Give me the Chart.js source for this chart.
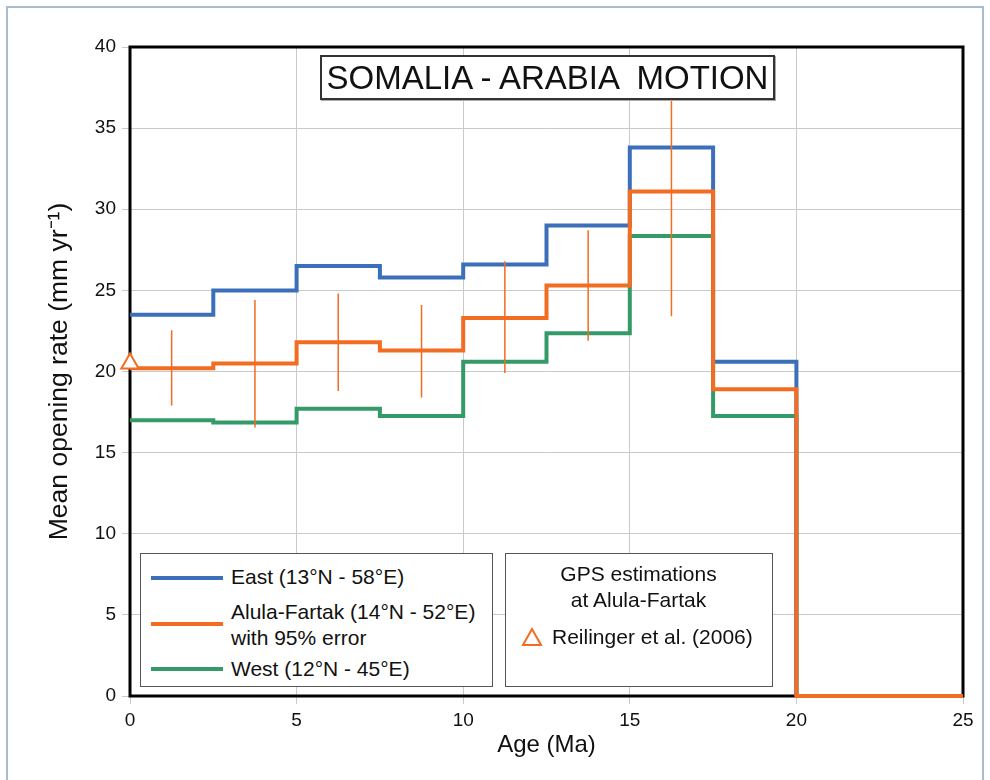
<!DOCTYPE html>
<html lang="en">
<head>
    <meta charset="UTF-8">
    <title>Somalia - Arabia Motion</title>
    <script src="https://cdn.jsdelivr.net/npm/chart.js@4.4.1/dist/chart.umd.min.js"></script>
    <style>
        * {
            margin: 0;
            padding: 0;
            box-sizing: border-box;
        }

        body {
            background-color: #fff;
            font-family: 'Liberation Sans', Arial, sans-serif;
            color: #111;
        }

        .wrap {
            position: relative;
            width: 990px;
            height: 780px;
            overflow: hidden;
        }

        .page-border {
            position: absolute;
            left: 6px;
            top: 6px;
            width: 978px;
            height: 800px;
            border: 2px solid #a9bccb;
        }

        canvas {
            position: absolute;
            left: 0;
            top: 0;
        }

        .title-box {
            position: absolute;
            left: 320px;
            top: 55px;
            width: 455px;
            height: 45px;
            background: #fff;
            border: 2px solid #333;
            box-shadow: 1px 1px 0 #aaa;
            font-size: 33px;
            line-height: 41px;
            text-align: center;
            white-space: pre;
        }

        .legend {
            position: absolute;
            top: 553px;
            height: 134px;
            background: #fff;
            border: 1.5px solid #555;
            font-size: 21px;
        }

        .legend .item {
            position: absolute;
            white-space: nowrap;
            line-height: 24px;
        }

        .legend .swatch {
            position: absolute;
            height: 4px;
            width: 72px;
            left: 10px;
        }
    </style>
</head>
<body>
    <div class="wrap">
        <div class="page-border"></div>
        <canvas id="rateChart" width="990" height="780"></canvas>

        <div class="title-box">SOMALIA - ARABIA  MOTION</div>

        <div class="legend" style="left:140px; width:353px;">
            <div class="swatch" style="top:22px; background:#3b6fba;"></div>
            <div class="item" style="left:90px; top:11px;">East (13°N - 58°E)</div>
            <div class="swatch" style="top:68px; background:#f26d21;"></div>
            <div class="item" style="left:90px; top:46px;">Alula-Fartak (14°N - 52°E)</div>
            <div class="item" style="left:90px; top:72px;">with 95% error</div>
            <div class="swatch" style="top:113px; background:#349a68;"></div>
            <div class="item" style="left:90px; top:103px;">West (12°N - 45°E)</div>
        </div>

        <div class="legend" style="left:505px; width:268px;">
            <div class="item" style="left:0; width:265px; text-align:center; top:8px;">GPS estimations</div>
            <div class="item" style="left:0; width:265px; text-align:center; top:34px;">at Alula-Fartak</div>
            <svg style="position:absolute; left:15px; top:73px;" width="22" height="20">
                <polygon points="11,2 20,18 2,18" fill="#fff" stroke="#f26d21" stroke-width="2"/>
            </svg>
            <div class="item" style="left:46px; top:71px;">Reilinger et al. (2006)</div>
        </div>
    </div>

    <script>
        // Age bins (Ma) - each value holds from its age to the next one
        const ages = [0, 2.5, 5, 7.5, 10, 12.5, 15, 17.5, 20, 25];

        const eastRate  = [23.5, 25.0, 26.5, 25.8, 26.6, 29.0, 33.8, 20.6, 0];
        const alulaRate = [20.2, 20.5, 21.8, 21.3, 23.3, 25.3, 31.1, 18.9, 0, 0];
        const westRate  = [17.0, 16.85, 17.7, 17.25, 20.6, 22.35, 28.35, 17.25, 0];

        // 95% error bars for Alula-Fartak, at bin midpoints
        const errAge  = [1.25, 3.75, 6.25, 8.75, 11.25, 13.75, 16.25];
        const errLow  = [17.9, 16.55, 18.8, 18.4, 19.9, 21.9, 23.4];
        const errHigh = [22.55, 24.4, 24.8, 24.1, 26.8, 28.7, 38.8];

        // GPS estimate (Reilinger et al. 2006)
        const gpsAge = [0];
        const gpsRate = [20.5];

        const xTicks = [0, 5, 10, 15, 20, 25];
        const yTicks = [0, 5, 10, 15, 20, 25, 30, 35, 40];

        const BLUE = '#3b6fba';
        const ORANGE = '#f26d21';
        const GREEN = '#349a68';
        const FONT = "'Liberation Sans', Arial, sans-serif";

        function toPoints(xs, ys) {
            return ys.map((y, i) => ({ x: xs[i], y: y }));
        }

        const errPoints = [];
        errAge.forEach((a, i) => {
            errPoints.push({ x: a, y: errLow[i] });
            errPoints.push({ x: a, y: errHigh[i] });
            errPoints.push({ x: a, y: null });
        });

        // black frame around the plot area, under the data
        const framePlugin = {
            id: 'frame',
            beforeDatasetsDraw(chart) {
                const { ctx, chartArea: a } = chart;
                ctx.save();
                ctx.strokeStyle = '#000';
                ctx.lineWidth = 3;
                ctx.strokeRect(a.left, a.top, a.right - a.left, a.bottom - a.top);
                ctx.restore();
            }
        };

        const stepStyle = {
            stepped: true,
            borderWidth: 4,
            pointRadius: 0,
            fill: false,
            borderJoinStyle: 'miter',
            borderCapStyle: 'butt',
            clip: 4
        };

        new Chart(document.getElementById('rateChart'), {
            type: 'line',
            data: {
                datasets: [
                    {
                        label: 'GPS',
                        type: 'scatter',
                        data: toPoints(gpsAge, gpsRate),
                        pointStyle: 'triangle',
                        pointRadius: 10,
                        borderColor: ORANGE,
                        backgroundColor: '#fff',
                        borderWidth: 2,
                        clip: false,
                        order: 0
                    },
                    Object.assign({
                        label: 'Alula-Fartak',
                        data: toPoints(ages, alulaRate),
                        borderColor: ORANGE,
                        order: 1
                    }, stepStyle),
                    {
                        label: 'error',
                        data: errPoints,
                        borderColor: ORANGE,
                        borderWidth: 1.5,
                        pointRadius: 0,
                        spanGaps: false,
                        order: 2
                    },
                    Object.assign({
                        label: 'East',
                        data: toPoints(ages, eastRate),
                        borderColor: BLUE,
                        order: 3
                    }, stepStyle),
                    Object.assign({
                        label: 'West',
                        data: toPoints(ages, westRate),
                        borderColor: GREEN,
                        order: 4
                    }, stepStyle)
                ]
            },
            options: {
                responsive: false,
                animation: false,
                layout: {
                    padding: { left: 0, top: 47, right: 27, bottom: 0 }
                },
                plugins: {
                    legend: { display: false },
                    tooltip: { enabled: false }
                },
                scales: {
                    x: {
                        type: 'linear',
                        min: 0,
                        max: 25,
                        afterBuildTicks: s => { s.ticks = xTicks.map(v => ({ value: v })); },
                        afterFit: s => { s.height = 84; },
                        grid: { color: '#c9c9c9', lineWidth: 1, tickLength: 8 },
                        border: { display: false },
                        ticks: {
                            color: '#111',
                            padding: 5,
                            font: { family: FONT, size: 19 }
                        },
                        title: {
                            display: true,
                            text: 'Age (Ma)',
                            color: '#111',
                            font: { family: FONT, size: 24 },
                            padding: { top: 0, bottom: 20 }
                        }
                    },
                    y: {
                        type: 'linear',
                        min: 0,
                        max: 40,
                        afterBuildTicks: s => { s.ticks = yTicks.map(v => ({ value: v })); },
                        afterFit: s => { s.width = 130; },
                        grid: { color: '#c9c9c9', lineWidth: 1, tickLength: 8 },
                        border: { display: false },
                        ticks: {
                            color: '#111',
                            padding: 6,
                            font: { family: FONT, size: 19 }
                        },
                        title: {
                            display: true,
                            text: 'Mean opening rate (mm yr⁻¹)',
                            color: '#111',
                            font: { family: FONT, size: 26.5 },
                            padding: { top: 44, bottom: 0 }
                        }
                    }
                }
            },
            plugins: [framePlugin]
        });
    </script>
</body>
</html>
